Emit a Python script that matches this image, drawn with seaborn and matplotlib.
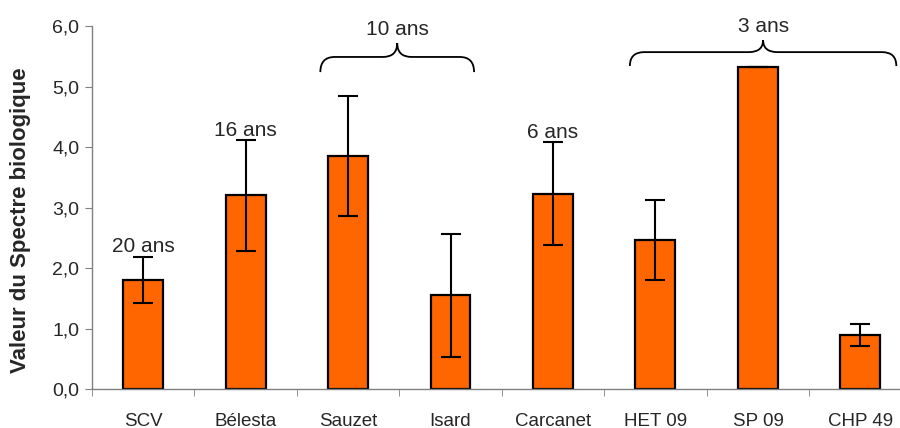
import numpy as np
import pandas as pd
import seaborn as sns
import matplotlib.pyplot as plt
from matplotlib.path import Path
from matplotlib.patches import PathPatch

sites = ["SCV", "Bélesta", "Sauzet", "Isard", "Carcanet", "HET 09", "SP 09", "CHP 49"]
values = [1.81, 3.20, 3.85, 1.55, 3.23, 2.47, 5.33, 0.89]
errors = [0.38, 0.92, 0.99, 1.02, 0.85, 0.66, 0.0, 0.18]
age_labels = ["20 ans", "16 ans", "6 ans"]
age_sites = ["SCV", "Bélesta", "Carcanet"]
group_labels = ["10 ans", "3 ans"]
group_sites = [("Sauzet", "Isard"), ("HET 09", "CHP 49")]

ORANGE = "#FF6600"
GREY = "#808080"


def draw_brace(ax, x0, x1, xc, yb, ym, yt, dx):
    verts = [
        (x0, yb), (x0, ym), (x0 + dx, ym),
        (xc - dx, ym),
        (xc, ym), (xc, yt),
        (xc, ym), (xc + dx, ym),
        (x1 - dx, ym),
        (x1, ym), (x1, yb),
    ]
    codes = [
        Path.MOVETO, Path.CURVE3, Path.CURVE3,
        Path.LINETO,
        Path.CURVE3, Path.CURVE3,
        Path.CURVE3, Path.CURVE3,
        Path.LINETO,
        Path.CURVE3, Path.CURVE3,
    ]
    ax.add_patch(PathPatch(Path(verts, codes), fill=False, lw=1.3,
                           edgecolor="black", clip_on=False))


def main():
    sns.set_style("white")
    plt.rcParams["font.family"] = ["Liberation Sans", "DejaVu Sans"]

    df = pd.DataFrame({"site": sites, "value": values, "err": errors})

    fig = plt.figure(figsize=(9, 4.28), dpi=100)
    ax = fig.add_axes([0.102, 0.091, 0.911, 0.848])

    sns.barplot(data=df, x="site", y="value", color=ORANGE, width=0.39,
                edgecolor="black", linewidth=1.6, saturation=1,
                errorbar=None, ax=ax)
    xs = np.arange(len(sites))
    ax.errorbar(xs, df["value"], yerr=df["err"], fmt="none",
                ecolor="black", elinewidth=1.5, capsize=7, capthick=1.5)

    ax.set_xlim(-0.5, len(sites) - 0.5)
    ax.set_ylim(0, 6)
    ax.set_yticks(np.arange(0, 6.1, 1))
    ax.set_yticklabels([f"{v:.1f}".replace(".", ",") for v in np.arange(0, 6.1, 1)])
    ax.set_xticks(np.arange(-0.5, len(sites), 1), minor=True)

    ax.tick_params(axis="y", which="major", direction="out", length=5,
                   color=GREY, labelsize=14, left=True, pad=4)
    ax.tick_params(axis="x", which="major", length=0, labelsize=13.5, pad=17)
    ax.tick_params(axis="x", which="minor", direction="out", length=5,
                   color=GREY, bottom=True)

    for side in ["top", "right"]:
        ax.spines[side].set_visible(False)
    for side in ["left", "bottom"]:
        ax.spines[side].set_color(GREY)
        ax.spines[side].set_linewidth(1.0)

    ax.set_xlabel("")
    ax.set_ylabel("Valeur du Spectre biologique", fontsize=16,
                  fontweight="bold")
    ax.yaxis.set_label_coords(-0.074, 0.466)

    pos = {s: i for i, s in enumerate(sites)}
    for lab, s in zip(age_labels, age_sites):
        i = pos[s]
        top = values[i] + errors[i]
        ax.text(i, top + 0.07, lab, ha="center", va="baseline", fontsize=15)

    # braces over the grouped sites
    brace_geom = [(-0.27, 0.23, 5.24, 5.49, 5.72), (-0.25, 0.35, 5.34, 5.57, 5.77)]
    for lab, (a, b), (da, db, yb, ym, yt) in zip(group_labels, group_sites, brace_geom):
        x0 = pos[a] + da
        x1 = pos[b] + db
        xc = (x0 + x1) / 2
        draw_brace(ax, x0, x1, xc, yb, ym, yt, 0.14)
        ax.text(xc, yt + 0.13, lab, ha="center", va="baseline", fontsize=15)

    fig.savefig("out.png", dpi=100)


if __name__ == "__main__":
    main()
